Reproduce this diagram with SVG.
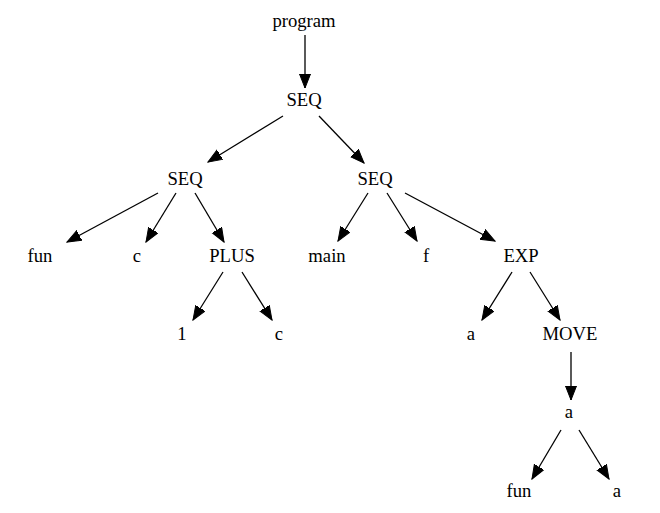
<svg xmlns="http://www.w3.org/2000/svg" width="660" height="513" viewBox="0 0 660 513">
<style>
.t text{font-size:18.67px;fill:#000;text-anchor:middle}
.e line{stroke:#000;stroke-width:1.3;marker-end:url(#ah)}
</style>
<defs>
<marker id="ah" markerUnits="userSpaceOnUse" markerWidth="15" markerHeight="13" refX="14" refY="6" orient="auto" viewBox="0 0 15 13">
<path d="M0,0.5 L14,6 L0,11.5 z" fill="#000" stroke="#000" stroke-width="1"/>
</marker>
</defs>
<rect width="660" height="513" fill="#fff"/>
<g id="edges" class="e">
<line x1="305" y1="35" x2="305" y2="88"/>
<line x1="283" y1="116" x2="208" y2="162"/>
<line x1="319" y1="116" x2="364" y2="163"/>
<line x1="158" y1="193" x2="67" y2="242"/>
<line x1="176" y1="193" x2="146" y2="242"/>
<line x1="195" y1="193" x2="224" y2="242"/>
<line x1="368" y1="193" x2="338" y2="241"/>
<line x1="387" y1="193" x2="417" y2="241"/>
<line x1="405" y1="193" x2="495" y2="241"/>
<line x1="223" y1="272" x2="193" y2="320"/>
<line x1="242" y1="272" x2="272" y2="320"/>
<line x1="512" y1="272" x2="482" y2="320"/>
<line x1="530" y1="272" x2="560" y2="320"/>
<line x1="571" y1="352" x2="571" y2="400"/>
<line x1="561" y1="430" x2="532" y2="479"/>
<line x1="579" y1="430" x2="609" y2="479"/>
</g>
<g class="t" font-family="'Liberation Serif', 'Times New Roman', serif">
<g id="n_program"><text x="304" y="27">program</text></g>
<g id="n_seq0"><text x="304" y="106">SEQ</text></g>
<g id="n_seq1"><text x="185" y="185">SEQ</text></g>
<g id="n_seq2"><text x="375" y="185">SEQ</text></g>
<g id="n_fun0"><text x="40" y="262">fun</text></g>
<g id="n_c0"><text x="137" y="262">c</text></g>
<g id="n_plus"><text x="232" y="262">PLUS</text></g>
<g id="n_main"><text x="327" y="262">main</text></g>
<g id="n_f"><text x="426" y="262">f</text></g>
<g id="n_exp"><text x="521" y="262">EXP</text></g>
<g id="n_1"><text x="182" y="340">1</text></g>
<g id="n_c1"><text x="279" y="340">c</text></g>
<g id="n_a0"><text x="471" y="340">a</text></g>
<g id="n_move"><text x="570" y="340">MOVE</text></g>
<g id="n_a1"><text x="569" y="418">a</text></g>
<g id="n_fun1"><text x="519" y="497">fun</text></g>
<g id="n_a2"><text x="617" y="497">a</text></g>
</g>
</svg>
